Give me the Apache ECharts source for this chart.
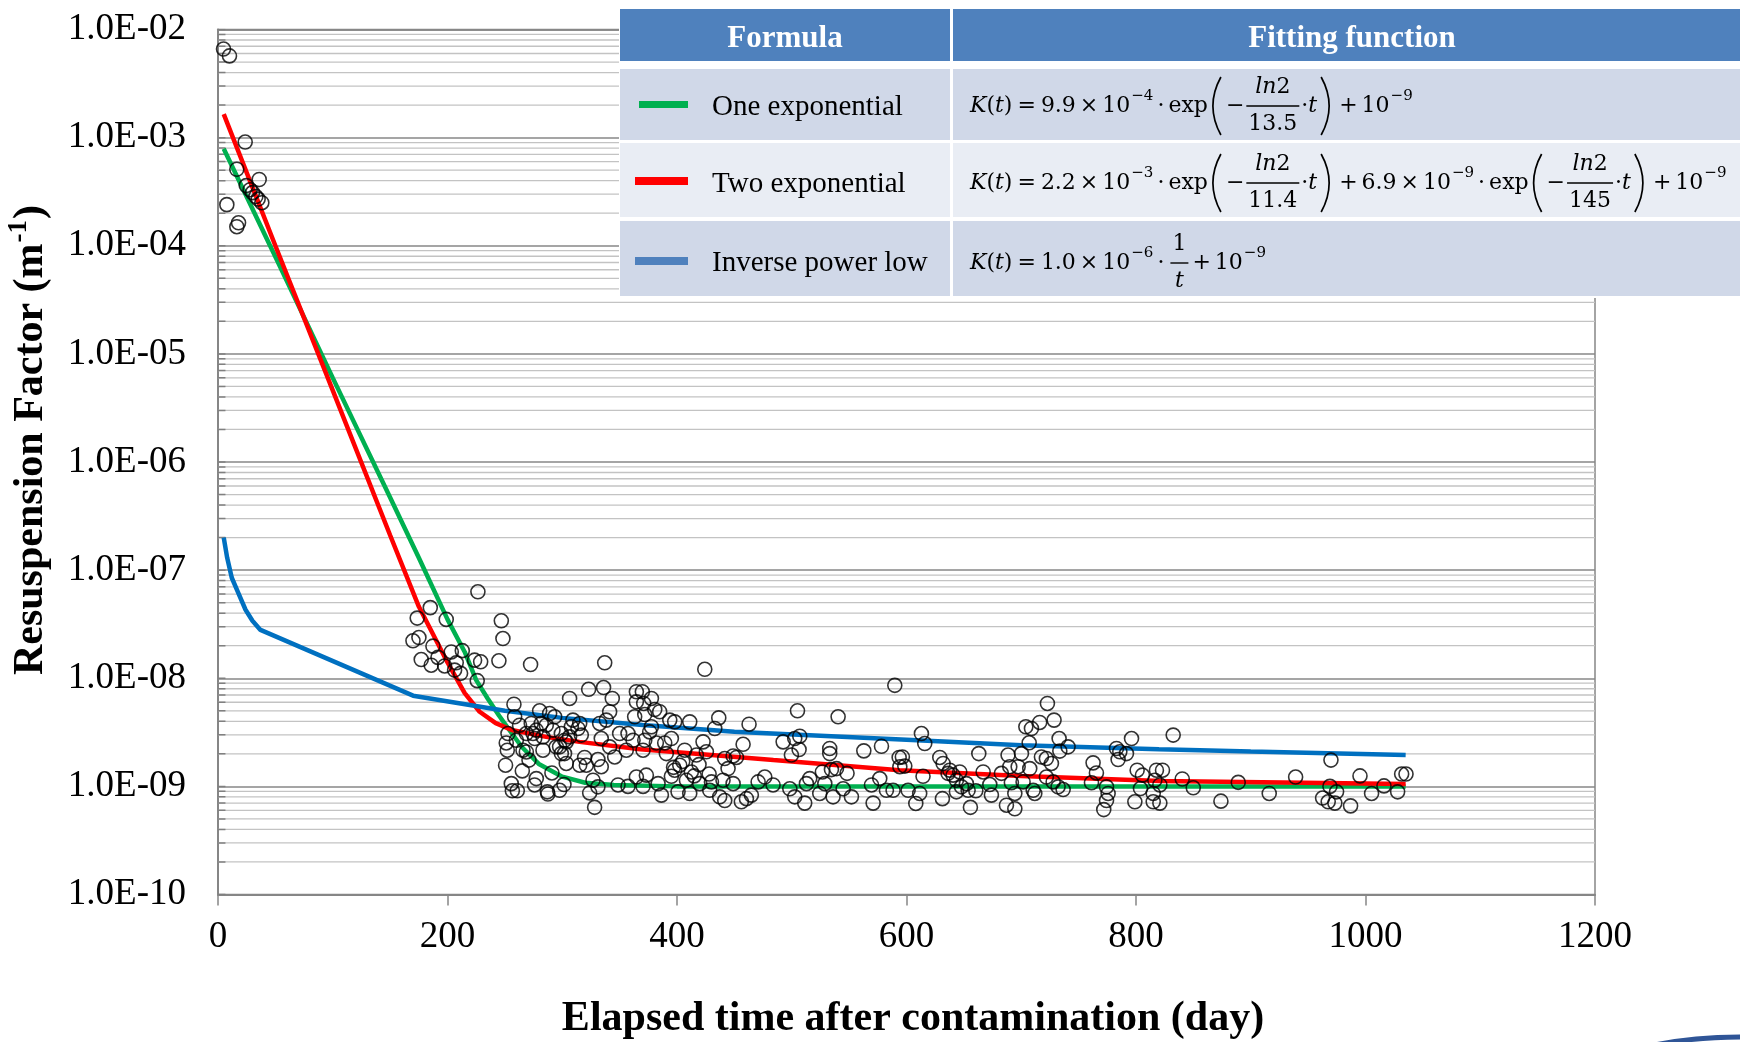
<!DOCTYPE html>
<html><head><meta charset="utf-8">
<script src="https://cdn.jsdelivr.net/npm/echarts@6/dist/echarts.min.js"></script>
<style>html,body{margin:0;padding:0;background:#fff}#c{width:1740px;height:1042px}</style>
</head><body><div id="c"></div>
<script>
// ---------------- data ----------------
const xTickLabels = ['0','200','400','600','800','1000','1200'];
const yTickLabels = ['1.0E-10','1.0E-09','1.0E-08','1.0E-07','1.0E-06','1.0E-05','1.0E-04','1.0E-03','1.0E-02'];

// measured resuspension factors [day, K]
const ptsEarly = [[4.8,6.6e-3],[10,5.7e-3],[23.7,9.1e-4],[16.4,5.1e-4],[35.9,4.1e-4],[24.6,3.6e-4],[30.1,3.1e-4],[33,2.85e-4],[38.2,2.5e-4],[28,3.3e-4],[35,2.7e-4],[7.7,2.4e-4],[16.4,1.5e-4],[17.9,1.63e-4]];
const ptsRise = [[226.5,6.3e-8],[185,4.5e-8],[173.6,3.6e-8],[198.9,3.5e-8],[246.9,3.4e-8],[248.3,2.33e-8],[175.1,2.38e-8],[169.9,2.22e-8],[187.3,1.98e-8],[203.3,1.75e-8],[212.9,1.8e-8],[191.7,1.56e-8],[177.1,1.49e-8],[185.8,1.32e-8],[197.5,1.30e-8],[207.6,1.39e-8],[206.2,1.19e-8],[211.4,1.11e-8],[223.6,1.47e-8],[228.9,1.42e-8],[225.9,9.5e-9],[244.8,1.45e-8],[272.4,1.34e-8],[337,1.39e-8]];
const ptsA = [[257.9,5.75e-9],[258.5,4.4e-9],[252.7,3.08e-9],[251.2,2.52e-9],[252.1,2.16e-9],[250.6,1.57e-9],[255.6,1.06e-9],[256.5,9.1e-10],[260.8,9.1e-10],[260,2.67e-9],[265.8,2.16e-9],[271,1.75e-9],[265.2,1.39e-9],[277.4,1.18e-9],[275.9,1.03e-9],[287,8.9e-10],[287.5,8.5e-10],[297.7,9.2e-10],[301.5,1.04e-9],[291,1.33e-9],[303.5,1.63e-9],[302,2.01e-9],[283.2,2.16e-9],[273,3.82e-9],[280.3,5.0e-9],[289,4.72e-9],[293.4,4.4e-9],[291.9,3.31e-9],[277.4,3.31e-9],[268.7,3.08e-9],[276,2.77e-9],[283.2,2.87e-9],[299.2,3.08e-9],[297.7,2.32e-9],[306.4,2.87e-9],[306.4,6.5e-9],[309.3,4.1e-9],[315.2,3.82e-9],[316.6,2.98e-9],[303.5,2.58e-9],[315.2,1.57e-9],[321,1.57e-9],[319.5,1.85e-9],[326.8,1.14e-9],[323.9,8.7e-10],[328.2,6.4e-10],[331.1,9.9e-10],[323,7.9e-9],[336,8.2e-9],[343.6,6.5e-9],[341.3,4.9e-9],[338.4,4.1e-9],[332.6,3.82e-9],[334,2.77e-9],[341.3,2.32e-9],[345.7,1.87e-9],[334,1.52e-9],[331.1,1.77e-9],[350,3.08e-9],[357.3,3.08e-9],[361.7,2.67e-9],[363.1,4.4e-9],[364.6,6.05e-9],[364.6,7.5e-9],[348.6,1.03e-9],[357.3,1.0e-9],[364.6,1.22e-9],[355.8,2.16e-9],[262.8,3.68e-9],[274.5,3.08e-9],[281.7,3.82e-9],[286.1,3.68e-9],[302.1,2.67e-9],[307.9,3.56e-9],[313.7,3.43e-9],[268.7,2.08e-9],[299.2,2.01e-9],[294.8,2.32e-9]];
const ptsB = [[369.8,7.5e-9],[377.7,6.5e-9],[371,5.85e-9],[380.6,5.14e-9],[384.9,4.9e-9],[371.9,4.62e-9],[377.7,3.56e-9],[376.2,3.19e-9],[393.7,4.1e-9],[398,3.95e-9],[411.1,3.95e-9],[436.4,4.3e-9],[432.9,3.43e-9],[424.2,1.21e-8],[462.8,3.76e-9],[395.1,2.77e-9],[389.3,2.52e-9],[382,2.52e-9],[371.9,2.67e-9],[370.4,2.16e-9],[390.7,2.01e-9],[406.7,2.16e-9],[422.7,2.58e-9],[425.6,2.09e-9],[416.9,1.95e-9],[419.2,1.59e-9],[457.6,2.45e-9],[441.6,1.81e-9],[448.9,1.91e-9],[451.8,1.85e-9],[444.5,1.46e-9],[402.4,1.57e-9],[398,1.41e-9],[395.1,1.24e-9],[373.3,1.27e-9],[370.4,1.0e-9],[383.5,1.06e-9],[386.4,8.3e-10],[400.9,8.9e-10],[411.1,8.6e-10],[408.2,1.14e-9],[412.5,1.36e-9],[419.8,1.06e-9],[428.5,9.2e-10],[437.2,8.0e-10],[441.6,7.4e-10],[440.1,1.14e-9],[448.9,1.06e-9],[456.1,7.2e-10],[460.5,7.7e-10],[464.8,8.3e-10],[470.7,1.1e-9],[476.5,1.22e-9],[483.7,1.03e-9],[492.5,2.58e-9],[499.7,1.95e-9],[502.6,2.77e-9],[507,2.91e-9],[506.4,2.19e-9],[505,5.0e-9],[498.3,9.5e-10],[502.6,8.0e-10],[511.3,7.0e-10],[512.8,1.06e-9],[515.7,1.18e-9],[524.4,8.6e-10],[528.8,1.06e-9],[536,8.0e-10],[540.4,4.4e-9],[533.1,2.24e-9],[533.1,2.01e-9],[526.7,1.36e-9],[534.6,1.43e-9],[539,1.46e-9],[548.2,1.32e-9],[544.8,9.5e-10],[552,8.0e-10],[562.8,2.13e-9],[578.2,2.35e-9],[589.8,8.6e-9],[593.6,1.85e-9],[594.2,1.52e-9],[570.9,7.0e-10],[569.5,1.03e-9],[576.7,1.18e-9],[582.5,9.2e-10],[588.3,9.2e-10],[397,1.5e-9],[405,1.7e-9],[415,1.25e-9],[430,1.1e-9],[428,1.3e-9]];
const ptsC = [[613,3.08e-9],[615.9,2.49e-9],[596.4,1.87e-9],[598.5,1.54e-9],[601.4,9.2e-10],[611.5,8.6e-10],[608.1,6.95e-10],[614.4,1.24e-9],[629,1.85e-9],[631.9,1.63e-9],[637.7,1.41e-9],[640.6,1.27e-9],[646.4,1.36e-9],[636.2,1.32e-9],[643.5,1.14e-9],[652.2,1.06e-9],[647.9,9.9e-10],[643.5,8.9e-10],[653.7,9.2e-10],[660.4,9.1e-10],[631.3,7.7e-10],[655.7,6.4e-10],[663,2.01e-9],[666.8,1.36e-9],[672.6,1.04e-9],[674,8.3e-10],[682.7,1.32e-9],[688.5,1.95e-9],[690,1.52e-9],[691.4,1.08e-9],[697.3,1.52e-9],[700.2,2.01e-9],[707.4,1.46e-9],[706.9,2.53e-9],[704,3.56e-9],[708.9,3.43e-9],[716.1,3.9e-9],[722.8,5.85e-9],[728.6,4.1e-9],[733,2.77e-9],[733.6,2.12e-9],[740.8,2.32e-9],[717.6,1.87e-9],[721.9,1.81e-9],[726.3,1.63e-9],[694.4,8.6e-10],[687.1,6.7e-10],[694.4,6.2e-10],[701.6,1.1e-9],[710.4,9.2e-10],[711.8,8.6e-10],[721.9,1.22e-9],[727.8,1.1e-9],[732.1,9.9e-10],[736.5,9.35e-10],[762.6,1.65e-9],[765.5,1.33e-9],[761.2,1.08e-9],[774.3,9.9e-10],[775.7,8.6e-10],[774.3,7.4e-10],[771.9,6.1e-10],[783,2.24e-9],[785.9,2.09e-9],[791.7,2.01e-9],[784.4,1.77e-9],[796.1,2.77e-9],[801,1.41e-9],[805.6,1.27e-9],[803.9,9.55e-10],[799,7.2e-10],[816.4,1.14e-9],[817.8,1.41e-9],[815,8.6e-10],[815,7.2e-10]];
const ptsD = [[823.1,1.41e-9],[820.8,1.03e-9],[820.8,7.0e-10],[832.4,2.98e-9],[840.3,1.17e-9],[849.9,9.7e-10],[874,7.3e-10],[889.1,1.09e-9],[916.1,8.6e-10],[939.1,1.22e-9],[969.9,1.75e-9],[969,1.0e-9],[974.8,8.9e-10],[962.6,7.8e-10],[967.5,7.2e-10],[973.3,7.0e-10],[987,6.6e-10],[995.2,1.25e-9],[1005.3,8.6e-10],[1016.1,1.01e-9],[1028,8.9e-10],[1031.5,1.3e-9],[1035.3,1.3e-9]];

// fitted curves, vertices
const greenT = [5,50,100,150,175,200,215,225,235,245,255,265,280,300,320,345,400,500,600,700,800,900,1035];
const greenK = [7.9e-4,7.9e-5,6.0e-6,4.7e-7,1.3e-7,3.5e-8,1.75e-8,9.6e-9,6.5e-9,4.5e-9,3.2e-9,2.3e-9,1.6e-9,1.23e-9,1.08e-9,1.03e-9,1.0e-9,1.0e-9,1.0e-9,1.0e-9,1.0e-9,1.0e-9,1.0e-9];
const redT = [5,50,100,150,175,200,215,228,242,257,286,315,368,484,594,700,821,1035];
const redK = [1.65e-3,1.0e-4,4.6e-6,2.1e-7,4.6e-8,1.4e-8,7.3e-9,4.9e-9,3.85e-9,3.3e-9,2.87e-9,2.58e-9,2.2e-9,1.75e-9,1.41e-9,1.25e-9,1.12e-9,1.05e-9];
const blueT = [5,8,12,17,24,30,37,170,250,300,370,450,600,700,820,900,1035];
const blueK = [2.0e-7,1.3e-7,8.5e-8,6.4e-8,4.3e-8,3.4e-8,2.8e-8,6.9e-9,5.0e-9,4.3e-9,3.7e-9,3.2e-9,2.7e-9,2.4e-9,2.2e-9,2.1e-9,1.95e-9];

const legendNames = ['One exponential','Two exponential','Inverse power low'];
// --------------------------------------------------------------

const zip = (a, b) => a.map((v, i) => [v, b[i]]);
const allPts = [].concat(ptsEarly, ptsRise, ptsA, ptsB, ptsC, ptsD);

const minorVals = [];
for (let e = -10; e <= -3; e++) for (let k = 2; k <= 9; k++) minorVals.push(k * Math.pow(10, e));
const allGridVals = minorVals.concat([1e-10,1e-9,1e-8,1e-7,1e-6,1e-5,1e-4,1e-3,1e-2]);

const SERIF = 'Liberation Serif';
const MATH = 'DejaVu Serif';
const FS = 22, SS = 15;
const cnv = document.createElement('canvas').getContext('2d');
function mw(text, size, italic, family) { cnv.font = (italic ? 'italic ' : '') + size + 'px "' + (family || MATH) + '"'; return cnv.measureText(text).width; }

const G = [];
function rect(x, y, w, h, fill) { G.push({type:'rect', shape:{x, y, width:w, height:h}, style:{fill}, z:100, silent:true}); }
function text(x, y, s, size, o = {}) {
  G.push({type:'text', x, y, z:101, silent:true, style:{text:s, fontSize:size, fontFamily:o.family||MATH,
    fontStyle:o.italic?'italic':'normal', fontWeight:o.bold?'bold':'normal', fill:o.fill||'#000',
    align:o.align||'left', verticalAlign:'middle'}});
}
function lparen(x, yt, yb) { G.push({type:'bezierCurve', z:101, silent:true, shape:{x1:x+11, y1:yt, x2:x+11, y2:yb, cpx1:x-5, cpy1:(yt+yb)/2}, style:{stroke:'#000', lineWidth:1.7, fill:null}}); }
function rparen(x, yt, yb) { G.push({type:'bezierCurve', z:101, silent:true, shape:{x1:x+2, y1:yt, x2:x+2, y2:yb, cpx1:x+18, cpy1:(yt+yb)/2}, style:{stroke:'#000', lineWidth:1.7, fill:null}}); }

function flow(x, b, toks) {
  for (const t of toks) {
    if (typeof t === 'string') {
      if (t === '(L)') { lparen(x, b - 29, b + 29); x += 16; continue; }
      if (t === '(R)') { rparen(x, b - 29, b + 29); x += 16; continue; }
      text(x, b, t, FS); x += mw(t, FS);
    } else if (t.i !== undefined) { text(x, b, t.i, FS, {italic:true}); x += mw(t.i, FS, true); }
    else if (t.sup !== undefined) { text(x + 1, b - 10, t.sup, SS); x += mw(t.sup, SS) + 1; }
    else if (t.g !== undefined) { x += t.g; }
    else if (t.f) {
      const [num, den, denIt] = t.f;
      const wn = num === 'ln2' ? mw('ln', FS, true) + mw('2', FS) : mw(num, FS);
      const wd = mw(den, FS, !!denIt);
      const w = Math.max(wn, wd) + 4;
      G.push({type:'line', z:101, silent:true, shape:{x1:x, y1:b, x2:x + w, y2:b}, style:{stroke:'#000', lineWidth:1.4}});
      const c = x + w / 2;
      if (num === 'ln2') { const s = c - wn / 2; text(s, b - 19, 'ln', FS, {italic:true}); text(s + mw('ln', FS, true), b - 19, '2', FS); }
      else text(c, b - 19, num, FS, {align:'center'});
      text(c, b + 18, den, FS, {align:'center', italic:!!denIt});
      x += w;
    }
  }
  return x;
}
const head = (coef, ex) => [{i:'K'}, '(', {i:'t'}, ')', {g:5}, '=', {g:5}, coef, {g:4}, '×', {g:4}, '10', {sup:ex}, {g:4}, '·', {g:4}];
const expo = (den) => ['exp', {g:2}, '(L)', '−', {g:2}, {f:['ln2', den]}, {g:2}, '·', {i:'t'}, {g:2}, '(R)'];
const tail = [{g:4}, '+', {g:4}, '10', {sup:'−9'}];

// table
rect(619, 5, 1121, 293, '#FFFFFF');
rect(620, 9, 330, 52, '#4F81BD'); rect(953, 9, 787, 52, '#4F81BD');
rect(620, 69, 330, 71, '#D0D8E8'); rect(953, 69, 787, 71, '#D0D8E8');
rect(620, 143, 330, 74, '#E9EDF4'); rect(953, 143, 787, 74, '#E9EDF4');
rect(620, 221, 330, 75, '#D0D8E8'); rect(953, 221, 787, 75, '#D0D8E8');
text(785, 39, 'Formula', 31, {family:SERIF, bold:true, fill:'#fff', align:'center'});
text(1352, 39, 'Fitting function', 31, {family:SERIF, bold:true, fill:'#fff', align:'center'});
rect(639, 101, 49, 7, '#00B050');
rect(635, 177, 53, 8, '#FF0000');
rect(635, 257, 53, 8, '#4F81BD');
text(712, 107, legendNames[0], 29, {family:SERIF});
text(712, 184, legendNames[1], 29, {family:SERIF});
text(712, 263, legendNames[2], 29, {family:SERIF});

flow(970, 106, [].concat(head('9.9', '−4'), expo('13.5'), tail));
flow(970, 183, [].concat(head('2.2', '−3'), expo('11.4'), [{g:4}, '+', {g:4}, '6.9', {g:4}, '×', {g:4}, '10', {sup:'−9'}, {g:4}, '·', {g:4}], expo('145'), tail));
flow(970, 263, [].concat(head('1.0', '−6'), [{g:2}, {f:['1', 't', true]}], tail));

// axis titles
text(913, 1019, 'Elapsed time after contamination (day)', 42, {family:SERIF, bold:true, align:'center'});
(function () {
  cnv.font = 'bold 42px "' + SERIF + '"'; const w1 = cnv.measureText('Resuspension Factor (m').width, w3 = cnv.measureText(')').width;
  cnv.font = 'bold 27px "' + SERIF + '"'; const w2 = cnv.measureText('-1').width;
  const x0 = -(w1 + w2 + w3) / 2;
  const st = (s, size, x, y) => ({type:'text', x, y, style:{text:s, fontSize:size, fontFamily:SERIF, fontWeight:'bold', fill:'#000', align:'left', verticalAlign:'middle'}});
  G.push({type:'group', x:31, y:441, rotation:Math.PI/2, z:101, silent:true, children:[
    st('Resuspension Factor (m', 42, x0, 0), st('-1', 27, x0 + w1 + 1, -12), st(')', 42, x0 + w1 + w2 + 2, 0)]});
})();
G.push({type:'ellipse', z:101, silent:true, shape:{cx:1745, cy:1077, rx:150, ry:40}, style:{fill:null, stroke:'#2F5597', lineWidth:5}});

// minor log gridlines (2..9 of each decade) and short inside ticks on the value axis
const guideSeries = [];
minorVals.forEach(v => guideSeries.push({type:'line', data:[[0, v], [1200, v]], showSymbol:false, symbol:'none', silent:true, z:1,
  lineStyle:{color:'#C3C3C3', width:1.3}, emphasis:{disabled:true}}));
allGridVals.forEach(v => guideSeries.push({type:'line', data:[[0, v], [6.5, v]], showSymbol:false, symbol:'none', silent:true, z:2,
  lineStyle:{color:'#808080', width:1.5}, emphasis:{disabled:true}}));

const chart = echarts.init(document.getElementById('c'), null, {renderer:'canvas'});
chart.setOption({
  animation:false,
  backgroundColor:'#fff',
  grid:{left:218, right:145, top:29.5, bottom:147.5, show:true, borderColor:'#868686', borderWidth:1.5, backgroundColor:'transparent'},
  xAxis:{type:'value', min:0, max:1200, interval:200,
    axisLine:{show:true, lineStyle:{color:'#868686', width:2}},
    axisTick:{show:true, length:11, lineStyle:{color:'#868686', width:1.5}},
    axisLabel:{fontFamily:SERIF, fontSize:37, color:'#000', margin:24, formatter:(v) => xTickLabels[Math.round(v / 200)]},
    splitLine:{show:false}},
  yAxis:{type:'log', logBase:10, min:1e-10, max:1e-2, splitNumber:8,
    axisLine:{show:true, lineStyle:{color:'#868686', width:2}},
    axisTick:{show:false},
    axisLabel:{fontFamily:SERIF, fontSize:37, color:'#000', margin:32, formatter:(v) => yTickLabels[Math.round(Math.log10(v)) + 10]},
    splitLine:{show:true, lineStyle:{color:'#878787', width:1.5}}},
  series:guideSeries.concat([
    {name:legendNames[0], type:'line', data:zip(greenT, greenK), showSymbol:false, symbol:'none', z:3, silent:true, lineStyle:{color:'#00B050', width:4.5}},
    {name:legendNames[1], type:'line', data:zip(redT, redK), showSymbol:false, symbol:'none', z:3, silent:true, lineStyle:{color:'#FF0000', width:4.5}},
    {name:legendNames[2], type:'line', data:zip(blueT, blueK), showSymbol:false, symbol:'none', z:3, silent:true, lineStyle:{color:'#0070C0', width:4.5}},
    {type:'scatter', data:allPts, symbol:'circle', symbolSize:14, z:5, silent:true,
      itemStyle:{color:'rgba(255,255,255,0)', borderColor:'#000', borderWidth:1.6}}
  ]),
  graphic:{elements:G}
});
</script></body></html>
